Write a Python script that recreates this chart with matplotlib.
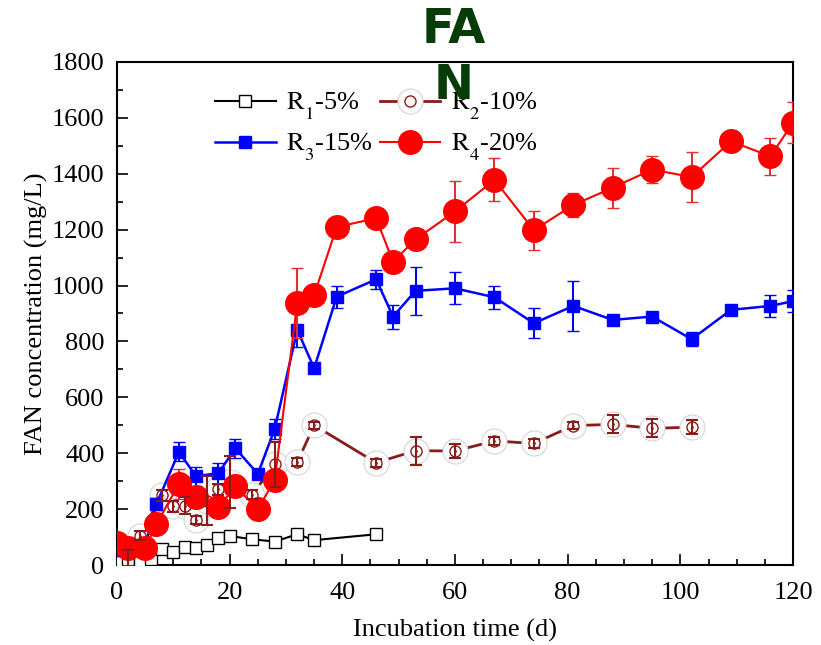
import matplotlib
matplotlib.use("Agg")
import matplotlib.pyplot as plt
import matplotlib._mathtext as mathtext_impl
from matplotlib.lines import Line2D
from matplotlib.legend_handler import HandlerTuple
from matplotlib.ticker import MultipleLocator

# FAN concentration (mg/L) vs incubation time (d) for four loading rates
t_r1 = [0, 2, 4, 6, 8, 10, 12, 14, 16, 18, 20, 24, 28, 32, 35, 46]
fan_r1 = [12, 8, 10, 20, 56, 48, 63, 60, 72, 98, 104, 92, 84, 110, 89, 110]
err_r1 = [8, 10, 10, 12, 12, 10, 10, 10, 12, 10, 10, 10, 12, 14, 10, 12]

t_r2 = [2, 4, 8, 10, 12, 14, 16, 18, 20, 24, 28, 32, 35, 46, 53, 60, 67, 74, 81, 88, 95, 102]
fan_r2 = [25, 105, 250, 210, 212, 161, 230, 271, 297, 252, 360, 368, 500, 366,
          409, 408, 444, 435, 499, 503, 489, 493]
err_r2 = [30, 15, 20, 20, 30, 15, 88, 20, 94, 15, 80, 15, 12, 15,
          50, 25, 15, 15, 12, 32, 32, 25]

t_r3 = [0, 2, 5, 7, 11, 14, 18, 21, 25, 28, 32, 35, 39, 46, 49, 53,
        60, 67, 74, 81, 88, 95, 102, 109, 116, 120]
fan_r3 = [55, 70, 70, 218, 405, 318, 328, 418, 326, 487, 841, 704, 960, 1022, 889, 981,
          990, 958, 865, 927, 877, 889, 808, 913, 927, 944]
err_r3 = [10, 15, 15, 20, 34, 34, 38, 34, 10, 37, 60, 10, 40, 33, 43, 85,
          57, 42, 54, 88, 10, 10, 26, 10, 40, 39]

t_r4 = [0, 2, 5, 7, 11, 14, 18, 21, 25, 28, 32, 35, 39, 46, 49, 53,
        60, 67, 74, 81, 88, 95, 102, 109, 116, 120]
fan_r4 = [80, 60, 60, 147, 290, 245, 206, 282, 199, 305, 937, 966, 1209, 1241, 1085, 1165,
          1265, 1378, 1198, 1288, 1350, 1415, 1388, 1516, 1462, 1583]
err_r4 = [20, 20, 20, 25, 55, 30, 25, 30, 25, 30, 125, 25, 30, 30, 30, 30,
          110, 77, 70, 42, 72, 48, 88, 20, 66, 73]

labels = [r"$\mathrm{R_1}$-5%", r"$\mathrm{R_2}$-10%", r"$\mathrm{R_3}$-15%", r"$\mathrm{R_4}$-20%"]

DARKRED = "#8b1a1a"

plt.rcParams["font.family"] = ["Liberation Serif", "DejaVu Serif"]
plt.rcParams["mathtext.fontset"] = "stix"
# drop subscripts a bit lower than the STIX default
mathtext_impl.STIXFontConstants.sub1 = 0.85

fig = plt.figure(figsize=(8.21, 6.45), dpi=100)
ax = fig.add_axes([0.1425, 0.124, 0.8234, 0.780])

# R1: open black squares
ax.errorbar(t_r1, fan_r1, yerr=err_r1, color="black", lw=1.5, marker="s", ms=8,
            mfc="white", mec="black", mew=1.0, capsize=3, elinewidth=1, zorder=3)

# R2: dark red ring inside a light grey halo
ax.plot(t_r2, fan_r2, color=DARKRED, lw=2, zorder=2)
ax.plot(t_r2, fan_r2, ls="none", marker="o", ms=18, mfc="white", mec="#d4d4d4",
        mew=0.8, zorder=2.1)
ax.plot(t_r2, fan_r2, ls="none", marker="o", ms=8, mfc="none", mec=DARKRED,
        mew=1.0, zorder=2.2)
ax.plot(t_r2, fan_r2, ls="none", marker=".", ms=2, color=DARKRED, zorder=2.3)
ax.errorbar(t_r2, fan_r2, yerr=err_r2, fmt="none", ecolor=DARKRED, elinewidth=1.5,
            capsize=4, capthick=1.5, zorder=6)

# R3: filled blue squares
ax.errorbar(t_r3, fan_r3, yerr=err_r3, color="#0000ff", lw=1.8, marker="s", ms=9,
            mfc="#0000ff", mec="#0000ff", capsize=4, elinewidth=1.5, zorder=4)

# R4: large filled red circles
ax.errorbar(t_r4, fan_r4, yerr=err_r4, color="#ff0000", lw=1.5, marker="o", ms=17,
            mfc="#ff0000", mec="#ff0000", ecolor="#e03030", capsize=4, elinewidth=1.5,
            zorder=5)

ax.set_xlim(0, 120)
ax.set_ylim(0, 1800)
ax.xaxis.set_major_locator(MultipleLocator(20))
ax.xaxis.set_minor_locator(MultipleLocator(5))
ax.yaxis.set_major_locator(MultipleLocator(200))
ax.yaxis.set_minor_locator(MultipleLocator(100))
ax.tick_params(which="both", direction="in", top=False, right=False,
               labelsize=19, width=1.2)
ax.tick_params(axis="x", pad=12)
ax.tick_params(axis="y", pad=9)
ax.tick_params(which="major", length=8)
ax.tick_params(which="minor", length=4)
for sp in ax.spines.values():
    sp.set_linewidth(1.5)

ax.set_xlabel("Incubation time (d)", fontsize=19, labelpad=11)
ax.set_ylabel("FAN concentration (mg/L)", fontsize=19, labelpad=3)

# legend handles
h1 = Line2D([], [], color="black", lw=1.5, marker="s", ms=8, mfc="white", mec="black")
h2a = Line2D([], [], color=DARKRED, lw=2, marker="o", ms=18, mfc="white", mec="#d4d4d4", mew=0.8)
h2b = Line2D([], [], ls="none", marker="o", ms=8, mfc="none", mec=DARKRED, mew=1.0)
h3 = Line2D([], [], color="#0000ff", lw=1.8, marker="s", ms=9, mfc="#0000ff", mec="#0000ff")
h4 = Line2D([], [], color="#ff0000", lw=1.5, marker="o", ms=17, mfc="#ff0000", mec="#ff0000")
ax.legend([h1, h3, (h2a, h2b), h4], [labels[0], labels[2], labels[1], labels[3]],
          ncol=2, frameon=False, fontsize=19, loc="upper left",
          bbox_to_anchor=(0.11, 0.989), handlelength=2.3, handletextpad=0.4,
          columnspacing=0.25, labelspacing=0.37,
          handler_map={tuple: HandlerTuple(ndivide=1)})

fig.text(0.553, 0.99, "FA\nN", ha="center", va="top", fontsize=34.5,
         fontweight="bold", family="DejaVu Sans", color="#073b07", linespacing=1.22,
         zorder=10)

fig.savefig("out.png", dpi=100, facecolor="white")
